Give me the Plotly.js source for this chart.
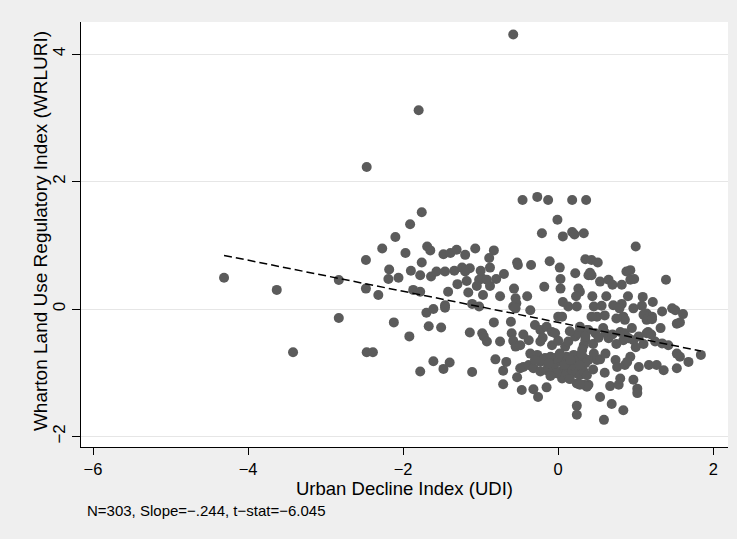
<!DOCTYPE html>
<html>
<head>
<meta charset="utf-8">
<script src="https://cdn.plot.ly/plotly-3.0.1.min.js"></script>
<style>html,body{margin:0;padding:0;background:#efefef;}#chart{width:737px;height:539px;}</style>
</head>
<body>
<div id="chart"></div>
<script>
// Urban Decline Index (UDI) values, one per metro area
const udi = [
-4.31,-3.63,-3.42,-2.83,-2.83,-2.48,-2.48,-2.32,-2.47,-2.39,-2.47,-1.80,-0.58,-2.27,-2.10,-1.91,-1.76,-2.18,-2.19,-2.06,
-1.97,-1.90,-1.78,-1.76,-1.69,-1.65,-1.64,-1.57,-1.46,-1.48,-1.87,-1.78,-1.42,-1.46,-1.46,-1.70,-1.61,-2.12,-1.92,-1.67,
-1.51,-1.78,-1.61,-1.48,-1.40,-0.46,-0.27,-0.13,0.18,0.36,-0.01,-0.21,0.06,0.18,0.21,0.33,-1.39,-1.31,-1.20,-1.07,
-0.83,-0.89,-0.88,-1.34,-1.24,-1.14,-1.20,-0.53,-0.52,-0.35,-0.11,0.02,0.22,0.35,0.39,0.03,0.03,-0.18,0.26,0.28,
0.23,-1.30,-1.18,-1.16,-1.05,-1.02,-0.98,-0.92,-0.88,-0.80,-0.97,-0.75,-0.57,-0.55,-0.54,-0.58,-0.40,-0.36,0.06,0.13,
-1.11,-1.02,-0.55,0.00,0.05,0.24,-0.83,-0.61,-1.14,-0.98,-0.96,-0.92,-0.75,-0.60,-0.58,-0.55,-0.49,-0.38,-0.23,-0.30,
-0.23,-0.15,-0.08,-0.04,-0.08,0.09,0.13,0.22,0.26,0.35,0.37,0.33,-0.36,-0.27,-0.23,-0.17,-0.10,-0.04,-0.06,0.00,
0.05,0.11,0.13,0.20,0.24,0.33,0.39,0.35,-0.49,-0.45,-0.38,-0.32,-0.23,-0.15,-0.13,-0.06,0.03,0.05,-0.02,0.11,
0.13,0.18,0.22,0.24,0.28,0.33,0.37,0.39,0.33,0.24,0.37,-0.81,-0.67,-0.71,-0.71,-0.53,-0.47,-0.32,-0.26,-0.15,
-1.11,0.24,0.24,1.00,0.43,0.51,0.43,0.41,0.54,0.65,0.70,0.82,0.88,0.93,0.93,0.98,1.39,0.44,0.90,1.09,
1.22,0.46,0.56,0.71,0.82,0.79,0.97,1.08,1.14,1.21,1.34,1.47,1.51,1.61,0.84,0.50,0.43,0.86,1.10,1.14,
1.21,1.32,1.53,1.57,0.28,0.39,0.35,0.48,0.58,0.61,0.65,0.80,0.86,0.84,0.91,0.97,1.04,1.14,1.16,1.25,
1.34,1.42,1.53,1.57,1.68,1.84,0.31,0.46,0.50,0.54,0.61,0.74,0.76,0.86,0.93,1.04,1.17,1.27,1.36,1.53,
0.89,0.28,0.67,0.78,0.80,0.97,1.02,1.02,0.54,0.69,0.84,0.59,
-0.20,-0.12,0.08,0.16,0.28,-0.30,0.02,0.30,-0.10,0.15,0.45,0.52,0.70,0.75,0.95,1.00,1.10,1.20,0.62,0.60,
0.75,-0.45,-0.20,0.00,0.15,0.45,0.60,-1.00,-0.70
];
// Wharton Land Use Regulatory Index (WRLURI) values
const wrluri = [
0.49,0.30,-0.68,0.455,-0.14,0.77,0.32,0.22,-0.68,-0.68,2.23,3.12,4.31,0.95,1.13,1.33,1.52,0.62,0.47,0.49,
0.88,0.60,0.53,0.73,0.98,0.92,0.51,0.59,0.59,0.86,0.30,0.27,0.27,0.06,0.02,-0.06,0.00,-0.21,-0.43,-0.27,
-0.29,-0.98,-0.82,-0.94,-0.84,1.71,1.76,1.71,1.71,1.71,1.40,1.19,1.14,1.21,1.17,1.19,0.88,0.93,0.85,0.95,
0.92,0.80,0.65,0.60,0.65,0.64,0.59,0.73,0.69,0.69,0.75,0.65,0.56,0.78,0.53,0.47,0.32,0.35,0.32,0.27,
0.20,0.39,0.44,0.26,0.36,0.46,0.48,0.46,0.36,0.47,0.22,0.20,0.32,0.17,0.09,0.04,0.20,-0.02,0.11,0.04,
0.08,0.04,0.01,-0.12,-0.12,0.04,-0.21,-0.20,-0.37,-0.38,-0.43,-0.51,-0.51,-0.38,-0.50,-0.59,-0.57,-0.49,-0.51,-0.25,
-0.33,-0.28,-0.36,-0.38,-0.57,-0.59,-0.51,-0.43,-0.38,-0.49,-0.33,-0.57,-0.70,-0.72,-0.83,-0.77,-0.75,-0.77,-0.85,-0.83,
-0.80,-0.75,-0.85,-0.72,-0.80,-0.77,-0.80,-0.85,-0.93,-0.91,-0.88,-0.93,-0.98,-0.96,-0.91,-0.93,-0.98,-1.09,-1.01,-1.01,
-0.91,-0.96,-0.91,-1.01,-1.04,-0.98,-1.04,-1.19,-1.19,-1.17,-1.22,-0.79,-0.83,-0.97,-1.18,-1.07,-1.27,-1.26,-1.38,-1.23,
-0.99,-1.52,-1.66,0.98,0.77,0.73,0.53,0.57,0.43,0.46,0.38,0.38,0.59,0.61,0.46,0.47,0.46,0.20,0.20,0.19,
0.11,0.04,0.05,0.06,0.08,0.01,0.01,0.05,-0.07,-0.12,-0.04,0.01,-0.02,-0.08,-0.12,-0.12,-0.12,-0.17,-0.09,-0.17,
-0.16,-0.30,-0.23,-0.21,-0.28,-0.33,-0.43,-0.38,-0.30,-0.38,-0.46,-0.36,-0.38,-0.49,-0.46,-0.49,-0.43,-0.38,-0.36,-0.51,
-0.54,-0.57,-0.70,-0.75,-0.83,-0.72,-0.64,-0.70,-0.80,-0.79,-0.70,-0.80,-0.91,-0.88,-0.75,-0.91,-0.88,-0.88,-0.96,-0.93,
-0.83,-1.19,-1.21,-1.19,-1.09,-1.11,-1.25,-1.32,-1.38,-1.49,-1.59,-1.74,
-0.80,-0.85,-0.88,-0.80,-0.88,-0.80,-0.70,-0.70,-1.05,-1.10,-0.55,-0.45,-0.40,-0.55,-0.30,-0.60,-0.55,-0.40,0.20,-0.10,
-0.15,-0.40,-0.45,-0.50,-0.35,-0.95,-1.00,0.60,0.55
];
// Reported linear fit
const fitSlope = -0.244;
const fitIntercept = -0.21;
const xTitle = 'Urban Decline Index (UDI)';
const yTitle = 'Wharton Land Use Regulatory Index (WRLURI)';
const noteText = "N=303, Slope=\u2212.244, t\u2212stat=\u22126.045";
const xTicks = [-6, -4, -2, 0, 2];
const yTicks = [-2, 0, 2, 4];

const xMin = Math.min(...udi), xMax = Math.max(...udi);
const fitX = [xMin, xMax];
const fitY = fitX.map(v => fitIntercept + fitSlope * v);

const FONT = "Liberation Sans, Arial, Helvetica, sans-serif";
const fmt = v => v < 0 ? '\u2212' + Math.abs(v) : String(v);

const traces = [
  {type: 'scatter', mode: 'markers', x: udi, y: wrluri,
   marker: {size: 10, color: '#5b5b5b', line: {width: 0}}, hoverinfo: 'x+y'},
  {type: 'scatter', mode: 'lines', x: fitX, y: fitY,
   line: {color: '#000000', width: 1.5, dash: '8px,4px'}, hoverinfo: 'skip'}
];

const layout = {
  width: 737, height: 539,
  margin: {l: 81, r: 9, t: 22, b: 92},
  paper_bgcolor: '#efefef', plot_bgcolor: '#ffffff',
  showlegend: false,
  font: {family: FONT, color: '#000', size: 17},
  xaxis: {
    range: [-6.155, 2.19], tickvals: xTicks, ticktext: xTicks.map(fmt),
    showgrid: false, zeroline: false, showline: true, linecolor: '#000', linewidth: 1,
    ticks: 'outside', ticklen: 7, tickcolor: '#000', tickfont: {size: 16.5, family: FONT}
  },
  yaxis: {
    range: [-2.166, 4.505], tickvals: yTicks, ticktext: yTicks.map(fmt),
    tickangle: -90,
    showgrid: true, gridcolor: '#e6e6e6', gridwidth: 1, zeroline: false, showline: true, linecolor: '#000', linewidth: 1,
    ticks: 'outside', ticklen: 8, tickcolor: '#000', tickfont: {size: 17, family: FONT}
  },
  annotations: [
    {xref: 'paper', yref: 'paper', x: 0.5, y: -0.098, xanchor: 'center', yanchor: 'middle',
     text: xTitle, showarrow: false, font: {size: 18.5, family: FONT, color: '#000'}},
    {xref: 'paper', yref: 'paper', x: -0.0634, y: 0.508, xanchor: 'center', yanchor: 'middle', textangle: -90,
     text: yTitle, showarrow: false, font: {size: 19, family: FONT, color: '#000'}},
    {xref: 'paper', yref: 'paper', x: 0.006, y: -0.15, xanchor: 'left', yanchor: 'middle',
     text: noteText, showarrow: false, font: {size: 15, family: FONT, color: '#000'}}
  ]
};

Plotly.newPlot('chart', traces, layout, {displayModeBar: false, staticPlot: true});
</script>
</body>
</html>
